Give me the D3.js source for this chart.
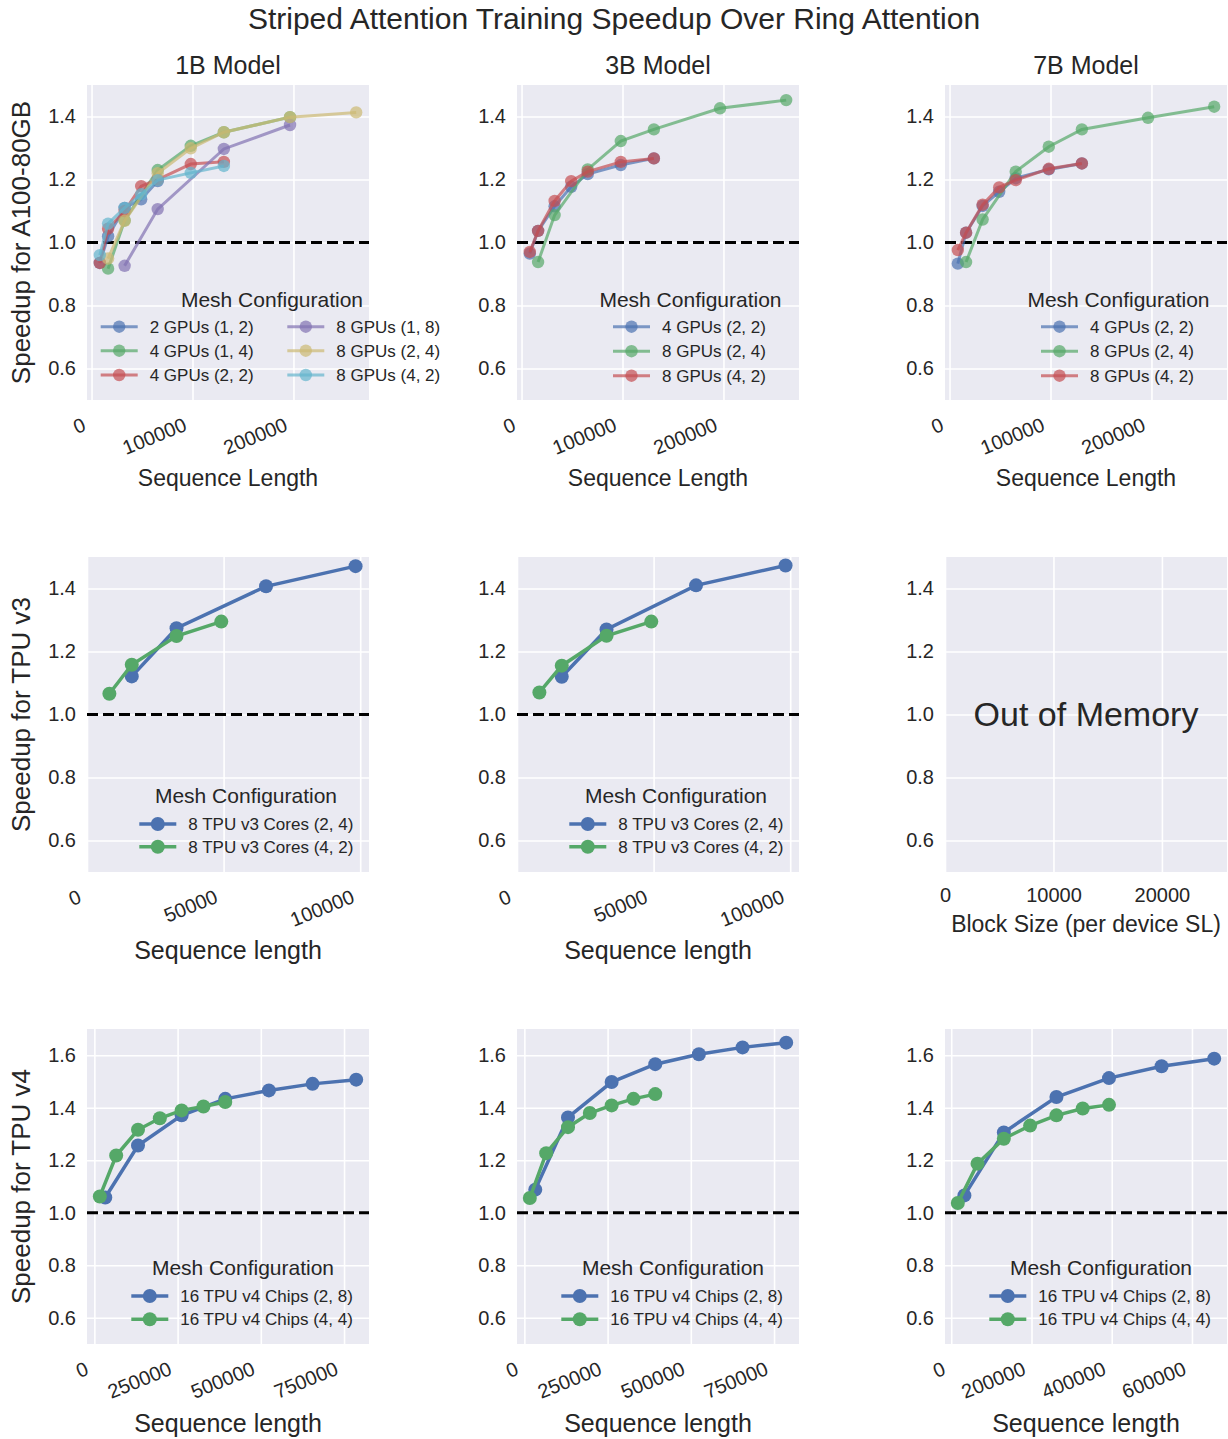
<!DOCTYPE html>
<html>
<head>
<meta charset="utf-8">
<script src="https://cdn.jsdelivr.net/npm/d3@7"></script>
<style>
  body { margin: 0; background: #fff; }
  text { font-family: "Liberation Sans", Arial, sans-serif; fill: #262626; }
</style>
</head>
<body>
<svg id="chart" width="1228" height="1439"></svg>
<script>
(function () {

  'use strict';

  // ----------- DATA --------------

  // A100 sequence lengths (null = not measured)
  var GPU_SEQ = [8192, 16384, 32768, 49152, 65536, 98304, 131072, 196608, 262144];

  var A100_1B_LABELS = ['2 GPUs (1, 2)', '4 GPUs (1, 4)', '4 GPUs (2, 2)', '8 GPUs (1, 8)', '8 GPUs (2, 4)', '8 GPUs (4, 2)'];
  var a100_1b_12 = [0.935, 1.02, 1.11, 1.137, 1.195, null, null, null, null];
  var a100_1b_14 = [null, 0.917, 1.07, null, 1.23, 1.307, 1.35, 1.398, null];
  var a100_1b_22 = [0.935, 1.044, 1.10, 1.179, 1.20, 1.249, 1.256, null, null];
  var a100_1b_18 = [null, null, 0.926, null, 1.106, null, 1.297, 1.373, null];
  var a100_1b_24 = [null, 0.949, 1.069, null, 1.22, 1.299, 1.35, 1.398, 1.413];
  var a100_1b_42 = [0.96, 1.06, 1.11, 1.153, 1.198, 1.221, 1.243, null, null];

  var A100_LABELS = ['4 GPUs (2, 2)', '8 GPUs (2, 4)', '8 GPUs (4, 2)'];
  var a100_3b_22 = [0.965, 1.037, 1.115, 1.177, 1.217, 1.246, 1.267, null, null];
  var a100_3b_24 = [null, 0.938, 1.087, null, 1.232, 1.322, 1.359, 1.426, 1.452];
  var a100_3b_42 = [0.97, 1.037, 1.132, 1.195, 1.225, 1.256, 1.267, null, null];

  var a100_7b_22 = [0.933, 1.031, 1.116, 1.161, 1.204, 1.232, 1.251, null, null];
  var a100_7b_24 = [null, 0.938, 1.073, null, 1.225, 1.304, 1.359, 1.396, 1.431];
  var a100_7b_42 = [0.976, 1.031, 1.12, 1.175, 1.198, 1.234, 1.251, null, null];

  // TPU v3
  var V3_SEQ = [8192, 16384, 32768, 49152, 65536, 98304];
  var V3_LABELS = ['8 TPU v3 Cores (2, 4)', '8 TPU v3 Cores (4, 2)'];
  var v3_1b_24 = [null, 1.121, 1.274, null, 1.407, 1.471];
  var v3_1b_42 = [1.066, 1.158, 1.249, 1.295, null, null];
  var v3_3b_24 = [null, 1.12, 1.27, null, 1.41, 1.473];
  var v3_3b_42 = [1.07, 1.155, 1.25, 1.295, null, null];
  var BLOCK_SIZE_LIM = [0, 26000];

  // TPU v4
  var V4_SEQ = [16384, 32768, 65536, 131072, 196608, 262144, 327680, 393216, 524288, 655360, 786432];
  var V4_LABELS = ['16 TPU v4 Chips (2, 8)', '16 TPU v4 Chips (4, 4)'];
  var v4_1b_28 = [null, 1.058, null, 1.256, null, 1.371, null, 1.434, 1.466, 1.491, 1.507];
  var v4_1b_44 = [1.062, null, 1.218, 1.316, 1.36, 1.39, 1.405, 1.422, null, null, null];
  var v4_3b_28 = [null, 1.088, null, 1.363, null, 1.498, null, 1.566, 1.604, 1.630, 1.648];
  var v4_3b_44 = [1.056, null, 1.227, 1.326, 1.38, 1.409, 1.434, 1.452, null, null, null];
  var v4_7b_28 = [null, 1.066, null, 1.306, null, 1.441, null, 1.513, 1.558, 1.587, null];
  var v4_7b_44 = [1.037, null, 1.187, 1.282, 1.332, 1.371, 1.397, 1.411, null, null, null];

  var TICKS_Y = [0.6, 0.8, 1.0, 1.2, 1.4];
  var TICKS_Y_V4 = [0.6, 0.8, 1.0, 1.2, 1.4, 1.6];
  var TICKS_X_A100 = [0, 100000, 200000];
  var TICKS_X_V3 = [0, 50000, 100000];
  var TICKS_X_BLOCK = [0, 10000, 20000];
  var TICKS_X_V4 = [0, 250000, 500000, 750000];
  var TICKS_X_V4_7B = [0, 200000, 400000, 600000];

  var MODELS = ['1B Model', '3B Model', '7B Model'];

  // seaborn deep
  var BLUE = '#4C72B0', GREEN = '#55A868', RED = '#C44E52',
      PURPLE = '#8172B2', SAND = '#CCB974', CYAN = '#64B5CD';

  // ----------- LAYOUT --------------

  var svg = d3.select('#chart');
  var ROW_TOP = [85, 557, 1029];
  var COL_LEFT = [87, 517, 945];
  var W = 282, H = 315;

  function series(xs, ys, label, color) {
    var pts = [];
    for (var i = 0; i < xs.length; i++) {
      if (ys[i] !== null) { pts.push([xs[i], ys[i]]); }
    }
    return { pts: pts, label: label, color: color };
  }

  function autoDomain(list, lo) {
    var all = [];
    list.forEach(function (s) { s.pts.forEach(function (p) { all.push(p[0]); }); });
    var ext = d3.extent(all);
    if (lo !== undefined) { return [lo, ext[1] + 0.05 * (ext[1] - lo)]; }
    var span = ext[1] - ext[0];
    return [ext[0] - 0.05 * span, ext[1] + 0.05 * span];
  }

  function drawPanel(p) {
    var g = svg.append('g');
    var x = d3.scaleLinear().domain(p.xDomain).range([p.left, p.left + W]);
    var y = d3.scaleLinear().domain(p.yDomain).range([p.top + H, p.top]);

    g.append('rect')
      .attr('x', p.left).attr('y', p.top)
      .attr('width', W).attr('height', H)
      .attr('fill', '#EAEAF2');

    var yAxis = g.append('g')
      .attr('transform', 'translate(' + p.left + ',0)')
      .call(d3.axisLeft(y).tickValues(p.yTicks).tickSize(-W).tickPadding(11).tickFormat(d3.format('.1f')));
    yAxis.attr('font-family', null).attr('font-size', 20);
    yAxis.select('.domain').remove();
    yAxis.selectAll('line').attr('stroke', '#fff').attr('stroke-width', 1.6);
    yAxis.selectAll('text').attr('fill', '#262626');

    var xAxis = g.append('g')
      .attr('transform', 'translate(0,' + (p.top + H) + ')')
      .call(d3.axisBottom(x).tickValues(p.xTicks).tickSize(-H).tickFormat(d3.format('d')));
    xAxis.attr('font-family', null).attr('font-size', 20);
    xAxis.select('.domain').remove();
    xAxis.selectAll('line').attr('stroke', '#fff').attr('stroke-width', 1.6);
    if (p.flatTicks) {
      xAxis.selectAll('text').attr('fill', '#262626').attr('y', 16);
    } else {
      xAxis.selectAll('text')
        .attr('fill', '#262626')
        .attr('y', null).attr('dy', null)
        .attr('text-anchor', 'end')
        .attr('transform', 'translate(-5,30) rotate(-22)');
    }

    if (p.title) {
      g.append('text')
        .attr('x', p.left + W / 2).attr('y', p.top - 11)
        .attr('text-anchor', 'middle').attr('font-size', 25)
        .text(p.title);
    }
    if (p.yLabel) {
      g.append('text')
        .attr('transform', 'translate(30,' + (p.top + H / 2) + ') rotate(-90)')
        .attr('text-anchor', 'middle').attr('font-size', 26)
        .text(p.yLabel);
    }
    g.append('text')
      .attr('x', p.left + W / 2).attr('y', p.xLabelY)
      .attr('text-anchor', 'middle').attr('font-size', p.xLabelSize)
      .text(p.xLabel);

    if (p.empty) {
      g.append('text')
        .attr('x', p.left + W / 2).attr('y', y(1.0) + 11)
        .attr('text-anchor', 'middle').attr('font-size', 34)
        .text(p.empty);
      return;
    }

    // ring attention baseline
    g.append('line')
      .attr('x1', p.left).attr('x2', p.left + W)
      .attr('y1', y(1.0)).attr('y2', y(1.0))
      .attr('stroke', '#000').attr('stroke-width', 3)
      .attr('stroke-dasharray', '11,5');

    var line = d3.line().x(function (d) { return x(d[0]); }).y(function (d) { return y(d[1]); });

    p.series.forEach(function (s) {
      g.append('path')
        .datum(s.pts)
        .attr('d', line)
        .attr('fill', 'none')
        .attr('stroke', s.color)
        .attr('stroke-opacity', p.alpha)
        .attr('stroke-width', p.lw);
      g.selectAll(null)
        .data(s.pts)
        .enter()
        .append('circle')
        .attr('cx', function (d) { return x(d[0]); })
        .attr('cy', function (d) { return y(d[1]); })
        .attr('r', p.r)
        .attr('fill', s.color)
        .attr('fill-opacity', p.alpha);
    });

    // legend
    var L = p.legend;
    g.append('text')
      .attr('x', p.left + L.titleX).attr('y', p.top + L.titleY)
      .attr('text-anchor', 'middle').attr('font-size', 21)
      .text('Mesh Configuration');
    p.series.forEach(function (s, i) {
      var col = Math.floor(i / L.rows.length);
      var row = i % L.rows.length;
      var hx = p.left + L.handleX[col];
      var hy = p.top + L.rows[row];
      g.append('line')
        .attr('x1', hx).attr('x2', hx + 37)
        .attr('y1', hy).attr('y2', hy)
        .attr('stroke', s.color).attr('stroke-opacity', p.alpha)
        .attr('stroke-width', p.lw);
      g.append('circle')
        .attr('cx', hx + 18.5).attr('cy', hy).attr('r', p.r)
        .attr('fill', s.color).attr('fill-opacity', p.alpha);
      g.append('text')
        .attr('x', hx + 49).attr('y', hy + 6)
        .attr('font-size', 17)
        .text(s.label);
    });
  }

  // ----------- PANELS --------------

  var rowA100 = [
    [series(GPU_SEQ, a100_1b_12, A100_1B_LABELS[0], BLUE),
     series(GPU_SEQ, a100_1b_14, A100_1B_LABELS[1], GREEN),
     series(GPU_SEQ, a100_1b_22, A100_1B_LABELS[2], RED),
     series(GPU_SEQ, a100_1b_18, A100_1B_LABELS[3], PURPLE),
     series(GPU_SEQ, a100_1b_24, A100_1B_LABELS[4], SAND),
     series(GPU_SEQ, a100_1b_42, A100_1B_LABELS[5], CYAN)],
    [series(GPU_SEQ, a100_3b_22, A100_LABELS[0], BLUE),
     series(GPU_SEQ, a100_3b_24, A100_LABELS[1], GREEN),
     series(GPU_SEQ, a100_3b_42, A100_LABELS[2], RED)],
    [series(GPU_SEQ, a100_7b_22, A100_LABELS[0], BLUE),
     series(GPU_SEQ, a100_7b_24, A100_LABELS[1], GREEN),
     series(GPU_SEQ, a100_7b_42, A100_LABELS[2], RED)]
  ];

  rowA100.forEach(function (ss, c) {
    drawPanel({
      left: COL_LEFT[c], top: ROW_TOP[0],
      xDomain: autoDomain(ss), yDomain: [0.5, 1.5],
      xTicks: TICKS_X_A100, yTicks: TICKS_Y,
      title: MODELS[c],
      yLabel: c === 0 ? 'Speedup for A100-80GB' : null,
      xLabel: 'Sequence Length', xLabelY: 486, xLabelSize: 23,
      series: ss, alpha: 0.7, lw: 3, r: 6.2,
      legend: c === 0 ?
        { titleX: 185, titleY: 222, rows: [241.7, 265.7, 290], handleX: [13.7, 200.3] } :
        { titleX: 173.5, titleY: 222, rows: [241.7, 266.2, 290.7], handleX: [96] }
    });
  });

  var rowV3 = [
    [series(V3_SEQ, v3_1b_24, V3_LABELS[0], BLUE), series(V3_SEQ, v3_1b_42, V3_LABELS[1], GREEN)],
    [series(V3_SEQ, v3_3b_24, V3_LABELS[0], BLUE), series(V3_SEQ, v3_3b_42, V3_LABELS[1], GREEN)]
  ];

  rowV3.forEach(function (ss, c) {
    drawPanel({
      left: COL_LEFT[c], top: ROW_TOP[1],
      xDomain: autoDomain(ss, 0), yDomain: [0.5, 1.5],
      xTicks: TICKS_X_V3, yTicks: TICKS_Y,
      yLabel: c === 0 ? 'Speedup for TPU v3' : null,
      xLabel: 'Sequence length', xLabelY: 959, xLabelSize: 25,
      series: ss, alpha: 1, lw: 3.5, r: 7,
      legend: { titleX: 159, titleY: 246, rows: [267, 289.7], handleX: [52.3] }
    });
  });

  drawPanel({
    left: COL_LEFT[2], top: ROW_TOP[1],
    xDomain: BLOCK_SIZE_LIM, yDomain: [0.5, 1.5],
    xTicks: TICKS_X_BLOCK, yTicks: TICKS_Y, flatTicks: true,
    xLabel: 'Block Size (per device SL)', xLabelY: 932, xLabelSize: 23,
    empty: 'Out of Memory'
  });

  var rowV4 = [
    [series(V4_SEQ, v4_1b_28, V4_LABELS[0], BLUE), series(V4_SEQ, v4_1b_44, V4_LABELS[1], GREEN)],
    [series(V4_SEQ, v4_3b_28, V4_LABELS[0], BLUE), series(V4_SEQ, v4_3b_44, V4_LABELS[1], GREEN)],
    [series(V4_SEQ, v4_7b_28, V4_LABELS[0], BLUE), series(V4_SEQ, v4_7b_44, V4_LABELS[1], GREEN)]
  ];

  rowV4.forEach(function (ss, c) {
    drawPanel({
      left: COL_LEFT[c], top: ROW_TOP[2],
      xDomain: autoDomain(ss), yDomain: [0.5, 1.7],
      xTicks: c === 2 ? TICKS_X_V4_7B : TICKS_X_V4, yTicks: TICKS_Y_V4,
      yLabel: c === 0 ? 'Speedup for TPU v4' : null,
      xLabel: 'Sequence length', xLabelY: 1432, xLabelSize: 25,
      series: ss, alpha: 1, lw: 3.5, r: 7,
      legend: { titleX: 156, titleY: 246, rows: [267, 290.3], handleX: [44.3] }
    });
  });

  svg.append('text')
    .attr('x', 614).attr('y', 29)
    .attr('text-anchor', 'middle').attr('font-size', 30)
    .text('Striped Attention Training Speedup Over Ring Attention');

})();
</script>
</body>
</html>
